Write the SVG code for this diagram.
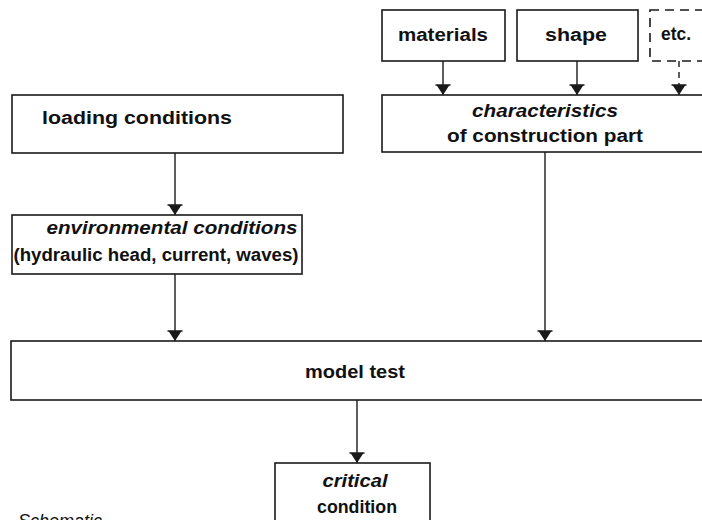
<svg xmlns="http://www.w3.org/2000/svg" width="702" height="520" viewBox="0 0 702 520">
<style>
.box{fill:#fff;stroke:#1a1a1a;stroke-width:1.6}
.dash{stroke-dasharray:9 6}
.t{font-family:"Liberation Sans",Arial,Helvetica,sans-serif;font-weight:bold;font-size:18px;fill:#111;text-anchor:middle}
.i{font-style:italic}
.c{stroke:#1a1a1a;stroke-width:1.4;fill:none;marker-end:url(#ah)}
</style>
<defs>
<marker id="ah" markerUnits="userSpaceOnUse" markerWidth="14" markerHeight="16" refX="10" refY="0" viewBox="0 -8 12 16" orient="auto" overflow="visible">
<path d="M0,-6.5 L10,0 L0,6.5 Z" fill="#1a1a1a"/>
<path d="M0,-7.5 L0,7.5" stroke="#1a1a1a" stroke-width="1.5"/>
</marker>
</defs>
<rect width="702" height="520" fill="#fff"/>
<g id="connectors">
<path class="c" d="M443,61 V95"/>
<path class="c" d="M577,61 V95"/>
<path class="c" d="M679,61 V95" stroke-dasharray="6 5"/>
<path class="c" d="M175,153 V215"/>
<path class="c" d="M175,274 V341"/>
<path class="c" d="M545,152 V341"/>
<path class="c" d="M357,400 V463"/>
</g>
<g id="materials">
<rect class="box" x="382" y="10" width="123" height="51"/>
<text class="t" x="443" y="41" textLength="90" lengthAdjust="spacingAndGlyphs">materials</text>
</g>
<g id="shape">
<rect class="box" x="517" y="10" width="121" height="51"/>
<text class="t" x="576" y="41" textLength="62" lengthAdjust="spacingAndGlyphs">shape</text>
</g>
<g id="etc">
<rect class="box dash" x="650" y="10" width="70" height="51"/>
<text class="t" x="676" y="40" textLength="30" lengthAdjust="spacingAndGlyphs">etc.</text>
</g>
<g id="characteristics">
<rect class="box" x="382" y="95" width="330" height="57"/>
<text class="t i" x="545" y="117" textLength="146" lengthAdjust="spacingAndGlyphs">characteristics</text>
<text class="t" x="545" y="142" textLength="196" lengthAdjust="spacingAndGlyphs">of construction part</text>
</g>
<g id="loading">
<rect class="box" x="12" y="95" width="331" height="58"/>
<text class="t" x="137" y="124" textLength="190" lengthAdjust="spacingAndGlyphs">loading conditions</text>
</g>
<g id="environmental">
<rect class="box" x="12" y="215" width="290" height="59"/>
<text class="t i" x="172" y="234" textLength="251" lengthAdjust="spacingAndGlyphs">environmental conditions</text>
<text class="t" x="156" y="261" textLength="285" lengthAdjust="spacingAndGlyphs">(hydraulic head, current, waves)</text>
</g>
<g id="model">
<rect class="box" x="11" y="341" width="710" height="59"/>
<text class="t" x="355" y="378" textLength="100" lengthAdjust="spacingAndGlyphs">model test</text>
</g>
<g id="critical">
<rect class="box" x="275" y="463" width="155" height="70"/>
<text class="t i" x="355" y="487" textLength="65" lengthAdjust="spacingAndGlyphs">critical</text>
<text class="t" x="357" y="513" textLength="80" lengthAdjust="spacingAndGlyphs">condition</text>
</g>
<text x="18" y="527" font-family="Liberation Sans,Arial,sans-serif" font-style="italic" font-size="18" fill="#111">Schematic</text>
</svg>
